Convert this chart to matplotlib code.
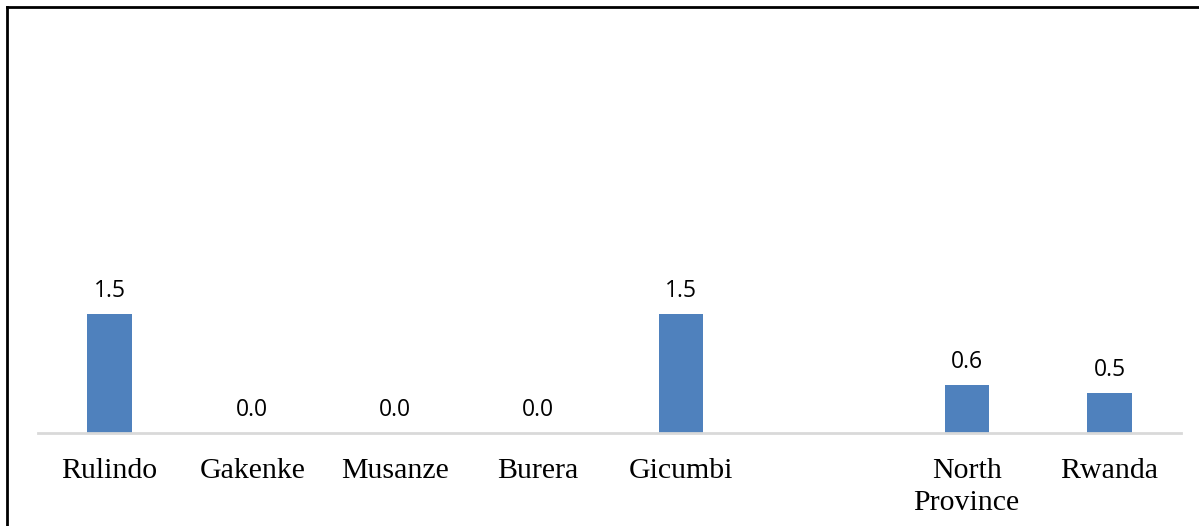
import matplotlib
matplotlib.use("Agg")
import matplotlib.pyplot as plt
from matplotlib.lines import Line2D

categories = ["Rulindo", "Gakenke", "Musanze", "Burera", "Gicumbi", "", "North\nProvince", "Rwanda"]
values = [1.5, 0.0, 0.0, 0.0, 1.5, None, 0.6, 0.5]

W, H = 1199, 526
fig = plt.figure(figsize=(W / 100, H / 100), dpi=100)
left, right, bottom_px, top_px = 38, 1181, 433, 36
ax = fig.add_axes([left / W, (H - bottom_px) / H, (right - left) / W, (bottom_px - top_px) / H])

x = list(range(len(categories)))
bx = [i for i, v in zip(x, values) if v is not None]
bv = [v for v in values if v is not None]
ax.bar(bx, bv, width=0.31, color="#4f81bd", zorder=2)
for i, v in zip(bx, bv):
    ax.annotate(f"{v:.1f}", (i, v), xytext=(0, 8), textcoords="offset points",
                ha="center", va="bottom", fontsize=16.5, family="Open Sans", color="#000000")

ax.set_xlim(-0.5, len(categories) - 0.5)
ax.set_ylim(0, 5.0)
ax.set_xticks(x)
ax.set_xticklabels(categories, family="Liberation Serif", fontsize=21.5, linespacing=1.28)
ax.tick_params(axis="x", length=0, pad=18)
ax.set_yticks([])
for s in ["top", "right", "left"]:
    ax.spines[s].set_visible(False)
ax.spines["bottom"].set_color("#d9d9d9")
ax.spines["bottom"].set_linewidth(2)

# outer frame (left and top edges visible)
fig.add_artist(Line2D([7 / W, 7 / W], [0, 1 - 7 / H], color="black", lw=2))
fig.add_artist(Line2D([7 / W, 1], [1 - 7 / H, 1 - 7 / H], color="black", lw=2))

fig.savefig("out.png", dpi=100)
